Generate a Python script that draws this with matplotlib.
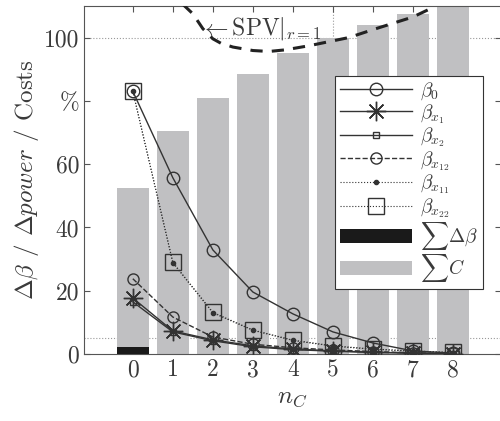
import numpy as np
import matplotlib
matplotlib.use('Agg')
import matplotlib.pyplot as plt

plt.rcParams['font.family'] = 'cmr10'
plt.rcParams['mathtext.fontset'] = 'cm'
plt.rcParams['axes.unicode_minus'] = False
plt.rcParams['text.color'] = '#3a3a3a'
plt.rcParams['axes.labelcolor'] = '#3a3a3a'
plt.rcParams['xtick.labelcolor'] = '#3a3a3a'
plt.rcParams['ytick.labelcolor'] = '#3a3a3a'

# data
n_c = [0, 1, 2, 3, 4, 5, 6, 7, 8]
sum_cost = [52.5, 70.5, 81.0, 88.5, 95.0, 100.0, 104.0, 107.5, 112.0]
sum_dbeta = [2.3, 0, 0, 0, 0, 0, 0, 0, 0]

beta_0 = [83.0, 55.7, 32.9, 19.6, 12.7, 7.0, 3.5, 1.0, 0.3]
beta_x1 = [17.7, 7.3, 4.5, 2.6, 1.6, 1.0, 0.6, 0.3, 0.1]
beta_x2 = [16.5, 7.0, 4.2, 2.3, 1.4, 0.9, 0.5, 0.3, 0.1]
beta_x12 = [23.8, 11.7, 5.4, 3.1, 2.0, 1.3, 0.8, 0.4, 0.2]
beta_x11 = [83.0, 28.8, 13.0, 7.5, 4.3, 2.5, 1.5, 0.9, 0.4]
beta_x22 = [83.0, 29.0, 13.2, 7.6, 4.4, 2.6, 1.6, 1.0, 0.5]

spv_x = [1.25, 1.5, 1.75, 2.0, 2.2, 2.5, 3.0, 3.4, 3.8, 4.4, 4.9, 5.4, 6.0, 6.5, 7.0, 7.5]
spv_y = [110.5, 107.5, 102.8, 99.6, 98.2, 97.0, 95.9, 95.6, 96.1, 97.4, 98.7, 100.0, 102.5, 104.5, 106.5, 109.5]

tick_labels = ['0', '20', '40', '60', '%', '100']

fig = plt.figure(figsize=(5, 4.21), dpi=100)
ax = fig.add_axes([0.168, 0.159, 0.834, 0.827])

ax.axhline(100, color='#999999', lw=0.8, ls=':', zorder=1)
ax.axhline(5, color='#999999', lw=0.8, ls=':', zorder=1)
ax.axvline(5, color='#999999', lw=0.8, ls=':', zorder=1)

ax.bar(n_c, sum_cost, width=0.8, color='#c0c0c2', label=r'$\sum C$', zorder=2)
ax.bar(n_c, sum_dbeta, width=0.8, color='#1a1a1a', label=r'$\sum\Delta\beta$', zorder=3)

ax.plot(spv_x, spv_y, color='#222222', lw=2.2, ls=(0, (4, 3)), zorder=4)
ax.text(1.68, 103, r'$\leftarrow$SPV$|_{r=1}$', fontsize=17, va='center', ha='left', zorder=5)

lc = '#333333'
ax.plot(n_c, beta_0, color=lc, lw=1.0, marker='o', ms=9, mfc='none', mec=lc, label=r'$\beta_0$', zorder=6)
ax.plot(n_c, beta_x1, color=lc, lw=1.0, marker=(8, 2, 0), ms=14, mec=lc, mew=1.0, label=r'$\beta_{x_1}$', zorder=6)
ax.plot(n_c, beta_x2, color=lc, lw=1.0, marker='s', ms=5, mfc='none', mec=lc, label=r'$\beta_{x_2}$', zorder=6)
ax.plot(n_c, beta_x12, color=lc, lw=1.0, ls='--', marker='o', ms=8, mfc='none', mec=lc, label=r'$\beta_{x_{12}}$', zorder=6)
ax.plot(n_c, beta_x11, color=lc, lw=0.8, ls=':', marker='.', ms=6, mfc=lc, mec=lc, label=r'$\beta_{x_{11}}$', zorder=6)
ax.plot(n_c, beta_x22, color=lc, lw=0.8, ls=':', marker='s', ms=12, mfc='none', mec=lc, label=r'$\beta_{x_{22}}$', zorder=6)

handles, labels = ax.get_legend_handles_labels()
order = [labels.index(k) for k in [r'$\beta_0$', r'$\beta_{x_1}$', r'$\beta_{x_2}$', r'$\beta_{x_{12}}$',
                                  r'$\beta_{x_{11}}$', r'$\beta_{x_{22}}$', r'$\sum\Delta\beta$', r'$\sum C$']]
leg = ax.legend([handles[i] for i in order], [labels[i] for i in order],
                loc='upper left', bbox_to_anchor=(0.603, 0.80), borderaxespad=0, fontsize=14,
                handlelength=3.7, handletextpad=0.4, labelspacing=0.0, borderpad=0.25,
                fancybox=False, framealpha=1, edgecolor='#333333', numpoints=1)
leg.get_frame().set_linewidth(0.8)
leg.set_zorder(10)

ax.set_xlim(-1.22, 9.2)
ax.set_ylim(0, 110)
ax.set_xticks(n_c)
ax.set_yticks([0, 20, 40, 60, 80, 100])
ax.set_yticklabels(tick_labels)
ax.tick_params(direction='in', top=True, right=True, labelsize=17, length=4, color='#555555')
for s in ax.spines.values():
    s.set_color('#555555')
    s.set_linewidth(0.8)

ax.set_xlabel(r'$n_C$', fontsize=18)
ax.set_ylabel(r'$\Delta\beta$ / $\Delta power$ / Costs', fontsize=18, labelpad=2)

fig.savefig('out.png', dpi=100)
